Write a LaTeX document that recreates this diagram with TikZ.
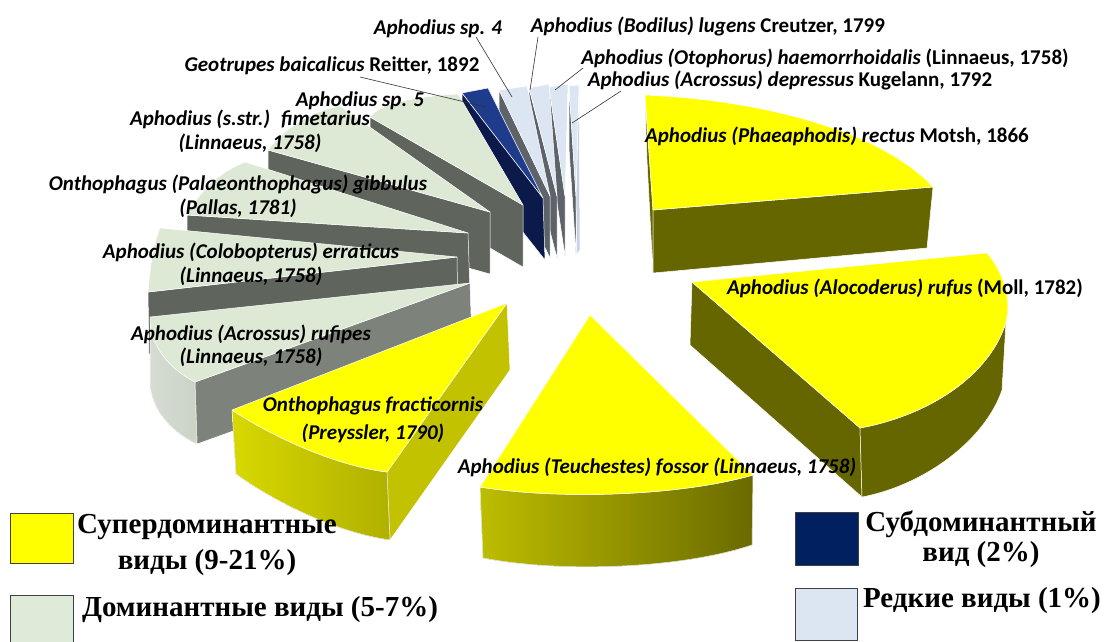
\documentclass[tikz,border=0pt]{standalone}
\usepackage{fontspec}
\setmainfont{Carlito}
\newfontfamily\legfont{Liberation Serif}
\definecolor{yel}{HTML}{FFFF00}
\definecolor{olv}{HTML}{666600}
\definecolor{olvlight}{HTML}{BDBD00}
\definecolor{olvdark}{HTML}{6A6A00}
\definecolor{fracL}{HTML}{D8D800}
\definecolor{fracR}{HTML}{B0B000}
\definecolor{fracS}{HTML}{C2C200}
\definecolor{lgr}{HTML}{DDE8D5}
\definecolor{dgr}{HTML}{5F645D}
\definecolor{mgr}{HTML}{7D837B}
\definecolor{ogr}{HTML}{CBD3C6}
\definecolor{nvy}{HTML}{0B1A4A}
\definecolor{blu}{HTML}{1F3C8C}
\definecolor{lbcol}{HTML}{DCE6F2}
\definecolor{lbedge}{HTML}{C5D2E2}
\definecolor{rgr}{HTML}{5E6269}
\definecolor{legnv}{HTML}{002060}
\definecolor{leggr}{HTML}{DDEBD8}
\tikzset{
  face/.style={draw=white, line width=0.5pt, line join=round},
  lbltext/.style={font=\fontsize{21}{25}\selectfont\bfseries, align=center, inner sep=0pt, text=black},
  legtext/.style={font=\legfont\fontsize{29}{35}\selectfont\bfseries, align=center, inner sep=0pt, text=black},
  legbox/.style={draw=black!75, line width=0.8pt},
  leader/.style={draw=black!80, line width=0.6pt}
}
\begin{document}
\begin{tikzpicture}[x=1pt,y=-1pt]
\useasboundingbox (0,0) rectangle (1105,641);
\fill[white] (0,0) rectangle (1105,641);

% ---------- rare slices (back to front) ----------
% depressus
\fill[face, fill=rgr] (569,86) -- (576,196) -- (576,254) -- (569,148) -- cycle;
\fill[face, fill=lbedge] (579,85) -- (580,250) -- (577,254) -- (576,196) -- cycle;
\fill[face, fill=lbcol] (569,86) -- (579,85) -- (576,196) -- cycle;
% haemorrhoidalis
\fill[face, fill=rgr] (549,87) -- (565,196) -- (565,256) -- (549,149) -- cycle;
\fill[face, fill=lbcol] (549,87) -- (568,84) -- (565,196) -- cycle;
% lugens
\fill[face, fill=rgr] (529,88) -- (557,196) -- (557,258) -- (529,150) -- cycle;
\fill[face, fill=lbcol] (529,88) -- (549,84) -- (557,196) -- cycle;
% sp. 4
\fill[face, fill=rgr] (499,90) -- (550,196) -- (550,258) -- (499,152) -- cycle;
\fill[face, fill=lbcol] (499,90) -- (527,86) -- (550,196) -- cycle;

% ---------- subdominant ----------
\fill[face, fill=nvy] (462,93) -- (543,198) -- (545,260) -- (462,155) -- cycle;
\fill[face, fill=blu] (462,93) -- (488,88) -- (543,198) -- cycle;

% ---------- dominant slices ----------
% sp. 5
\fill[face, fill=dgr] (370,117) -- (523,205) -- (523,267) -- (370,179) -- cycle;
\fill[face, fill=lgr] (370,117) .. controls (380,104) and (410,97) .. (458,94) -- (523,205) -- cycle;
% fimetarius
\fill[face, fill=dgr] (268,150) -- (490,212) -- (490,274) -- (268,212) -- cycle;
\fill[face, fill=lgr] (268,150) .. controls (285,128) and (310,112) .. (340,106) -- (490,212) -- cycle;
% gibbulus
\fill[face, fill=dgr] (187,215) -- (468,233) -- (470,293) -- (187,277) -- cycle;
\fill[face, fill=lgr] (187,215) .. controls (200,190) and (220,172) .. (245,162) -- (468,233) -- cycle;
% erraticus
\fill[face, fill=dgr] (148,292) -- (457,257) -- (458,319) -- (149,354) -- cycle;
\fill[face, fill=lgr] (148,292) .. controls (150,268) and (153,245) .. (160,228) -- (457,257) -- cycle;
% rufipes
\fill[face, fill=mgr] (195,382) -- (470,283) -- (472,345) -- (197,444) -- cycle;
\fill[face, left color=ogr!80!white, right color=ogr] (150,317) .. controls (150,345) and (168,368) .. (195,382) -- (197,444) .. controls (168,430) and (150,407) .. (150,379) -- cycle;
\fill[face, fill=lgr] (470,283) -- (150,317) .. controls (150,345) and (168,368) .. (195,382) -- cycle;

% ---------- superdominant ----------
% fracticornis
\fill[face, fill=fracS] (507,303) -- (510,370) -- (390,540) -- (387,472) -- cycle;
\fill[face, left color=fracL, right color=fracR] (232,410) .. controls (265,432) and (330,465) .. (387,472) -- (390,540) .. controls (332,532) and (267,497) .. (236,474) -- cycle;
\fill[face, fill=yel] (507,303) -- (232,410) .. controls (265,432) and (330,465) .. (387,472) -- cycle;
% fossor
\fill[face, left color=olvlight, right color=olvdark] (480,487) .. controls (560,500) and (680,496) .. (753,475) -- (752,545) .. controls (680,569) and (560,573) .. (483,558) -- cycle;
\fill[face, fill=yel] (590,315) -- (480,487) .. controls (560,500) and (680,496) .. (753,475) -- cycle;
% rectus
\fill[face, fill=olv] (645,95) -- (653,210) -- (653,273) -- (647,160) -- cycle;
\fill[face, fill=olv] (653,210) -- (933,187) -- (927,248) -- (653,273) -- cycle;
\fill[face, fill=yel] (645,95) .. controls (760,100) and (880,130) .. (933,187) -- (653,210) -- cycle;
% rufus
\fill[face, fill=olv] (692,282) -- (860,428) -- (862,497) -- (690,345) -- cycle;
\fill[face, fill=olv] (860,428) .. controls (930,415) and (990,375) .. (1006,322) -- (1002,390) .. controls (985,440) and (925,485) .. (862,497) -- cycle;
\fill[face, fill=yel] (692,282) -- (987,253) .. controls (1003,272) and (1012,298) .. (1006,322) .. controls (990,375) and (930,415) .. (860,428) -- cycle;

% ---------- labels ----------
\node[lbltext] (lsp4) at (438,29) {\itshape Aphodius sp. 4};
\node[lbltext] (lgeo) at (332,66) {\itshape Geotrupes baicalicus \upshape Reitter, 1892};
\node[lbltext] (lsp5) at (360,101) {\itshape Aphodius sp. 5};
\node[lbltext] (llug) at (708,26) {\itshape Aphodius (Bodilus) lugens \upshape Creutzer, 1799};
\node[lbltext] (lhae) at (825,58) {\itshape Aphodius (Otophorus) haemorrhoidalis \upshape(Linnaeus, 1758)};
\node[lbltext] (ldep) at (790,80) {\itshape Aphodius (Acrossus) depressus \upshape Kugelann, 1792};
\node[lbltext] (lrec) at (837,136) {\itshape Aphodius (Phaeaphodis) rectus \upshape Motsh, 1866};
\node[lbltext] (lruf) at (905,288) {\itshape Aphodius (Alocoderus) rufus \upshape(Moll, 1782)};
\node[lbltext] (lfos) at (657,467) {\itshape Aphodius (Teuchestes) fossor (Linnaeus, 1758)};
\node[lbltext, font=\fontsize{21}{28}\selectfont\bfseries\itshape] (lfra) at (373,420) {Onthophagus fracticornis\\(Preyssler, 1790)};
\node[lbltext, font=\fontsize{21}{23}\selectfont\bfseries\itshape] (lrfp) at (251,346) {Aphodius (Acrossus) rufipes\\(Linnaeus, 1758)};
\node[lbltext, font=\fontsize{21}{24}\selectfont\bfseries\itshape] (lerr) at (251,264) {Aphodius (Colobopterus) erraticus\\(Linnaeus, 1758)};
\node[lbltext, font=\fontsize{21}{24}\selectfont\bfseries\itshape] (lgib) at (238,196) {Onthophagus (Palaeonthophagus) gibbulus\\(Pallas, 1781)};
\node[lbltext, font=\fontsize{21}{24}\selectfont\bfseries\itshape] (lfim) at (250,131) {Aphodius (s.str.) \ fimetarius\\(Linnaeus, 1758)};

% ---------- leader lines ----------
\coordinate (egeo) at (486,107);
\coordinate (esp4) at (512,97);
\coordinate (elug) at (530,90);
\coordinate (ehae) at (555,90);
\coordinate (edep) at (572,123);
\coordinate (sgeo) at (360,77);
\coordinate (ssp4) at (476,37);
\coordinate (slug) at (538,37);
\coordinate (shae) at (583,68);
\coordinate (sdep) at (621,91);
\draw[leader] (sgeo) -- (egeo);
\draw[leader] (ssp4) -- (esp4);
\draw[leader] (slug) -- (elug);
\draw[leader] (shae) -- (ehae);
\draw[leader] (sdep) -- (edep);

% ---------- legend ----------
\node[legbox, fill=yel, minimum width=63pt, minimum height=50pt, inner sep=0pt] (bsup) at (41.5,538) {};
\node[legbox, fill=leggr, minimum width=63pt, minimum height=50pt, inner sep=0pt] (bdom) at (41.5,620) {};
\node[legbox, fill=legnv, minimum width=63pt, minimum height=53pt, inner sep=0pt] (bsub) at (826.5,538.5) {};
\node[legbox, fill=lbcol, minimum width=62pt, minimum height=52pt, inner sep=0pt] (brar) at (826,614) {};
\node[legtext, font=\legfont\fontsize{29}{36}\selectfont\bfseries] (tsup) at (207,545) {Супердоминантные\\виды (9-21\%)};
\node[legtext] (tdom) at (260,610) {Доминантные виды (5-7\%)};
\node[legtext, font=\legfont\fontsize{29}{30}\selectfont\bfseries] (tsub) at (981,539) {Субдоминантный\\вид (2\%)};
\node[legtext] (trar) at (982,601) {Редкие виды (1\%)};
\end{tikzpicture}
\end{document}
